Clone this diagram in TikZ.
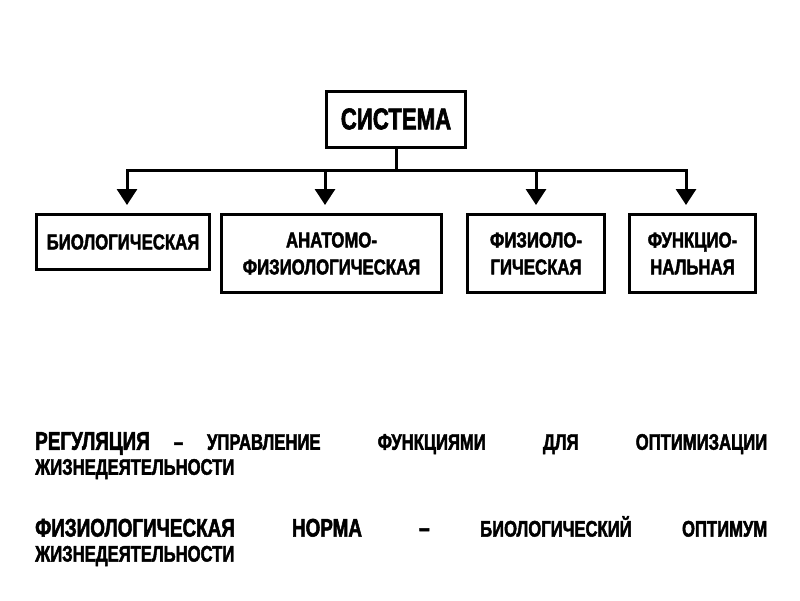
\documentclass[tikz,border=0pt]{standalone}
\usepackage{fontspec}
\usetikzlibrary{arrows.meta}
\newfontfamily\condfont{Liberation Sans}[FakeStretch=0.74,FakeBold=2]
\newfontfamily\boxfont{Liberation Sans}[FakeStretch=0.78,FakeBold=2]
\tikzstyle{sysbox}=[draw,line width=3pt,inner sep=0pt,font=\condfont\bfseries\fontsize{30}{30}\selectfont]
\tikzstyle{kindbox}=[draw,line width=3pt,inner sep=0pt,align=center,font=\boxfont\bfseries\fontsize{21.5}{27}\selectfont]
\tikzstyle{wire}=[line width=3pt,line cap=rect]
\tikzstyle{defn}=[anchor=north west,inner sep=0pt,text width=732pt,align=justify,font=\condfont\bfseries\fontsize{22.5}{25}\selectfont]
\newcommand{\bigword}[1]{{\fontsize{25.5}{25}\selectfont #1}}

\begin{document}
\begin{tikzpicture}[x=1pt,y=-1pt]
    \useasboundingbox (0,0) rectangle (800,600);
    \node[sysbox,minimum width=139pt,minimum height=56pt] (sys) at (396,119) {СИСТЕМА};
    \node[kindbox,minimum width=173pt,minimum height=55pt] (bio) at (123,242) {БИОЛОГИЧЕСКАЯ};
    \node[kindbox,minimum width=220pt,minimum height=78pt] (anat) at (331.5,253.5) {АНАТОМО-\\ФИЗИОЛОГИЧЕСКАЯ};
    \node[kindbox,minimum width=137pt,minimum height=78pt] (phys) at (536,253.5) {ФИЗИОЛО-\\ГИЧЕСКАЯ};
    \node[kindbox,minimum width=126pt,minimum height=78pt] (func) at (692.5,253.5) {ФУНКЦИО-\\НАЛЬНАЯ};

    \coordinate (t1) at (127,170);
    \coordinate (t2) at (325,170);
    \coordinate (t3) at (536,170);
    \coordinate (t4) at (686,170);

    \draw[wire] (sys) -- (sys |- t1);
    \draw[wire] (t1) -- (t4);
    \foreach \from/\to in {t1/bio,t2/anat,t3/phys,t4/func}
    \draw[wire,-{Triangle[width=20pt,length=16pt]},shorten >=8pt] (\from) -- (\from |- \to.north);

    \node[defn] (reg) at (35,432) {\bigword{РЕГУЛЯЦИЯ}\hspace{24pt}–\hspace{24pt}УПРАВЛЕНИЕ ФУНКЦИЯМИ ДЛЯ ОПТИМИЗАЦИИ\linebreak ЖИЗНЕДЕЯТЕЛЬНОСТИ};
    \node[defn] (norm) at (35,516) {\bigword{ФИЗИОЛОГИЧЕСКАЯ НОРМА –} БИОЛОГИЧЕСКИЙ ОПТИМУМ\linebreak ЖИЗНЕДЕЯТЕЛЬНОСТИ};
\end{tikzpicture}
\end{document}
